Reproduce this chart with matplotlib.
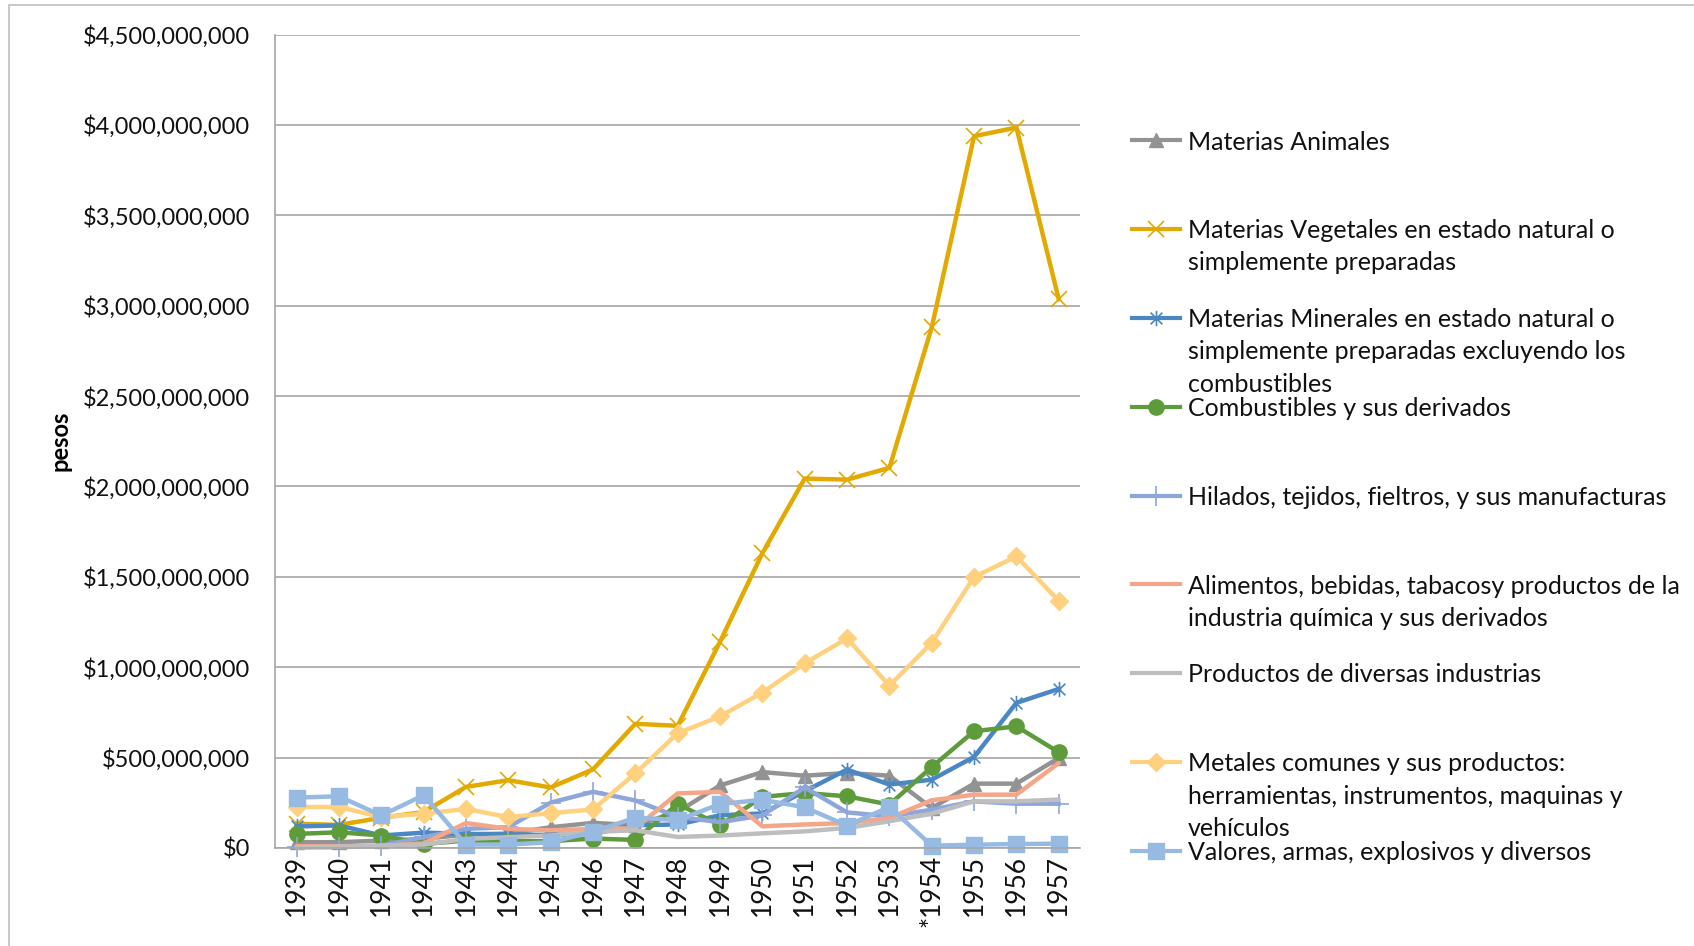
import numpy as np
import matplotlib
matplotlib.use('Agg')
import matplotlib.pyplot as plt
from matplotlib.lines import Line2D
from matplotlib.path import Path
from matplotlib.patches import Rectangle
from matplotlib.ticker import FuncFormatter, MultipleLocator

plt.rcParams['font.family'] = ['Lato', 'DejaVu Sans']

# years shown on the category axis (1954 carries a footnote star)
years = ['1939', '1940', '1941', '1942', '1943', '1944', '1945', '1946', '1947', '1948',
         '1949', '1950', '1951', '1952', '1953', '*1954', '1955', '1956', '1957']

# values in millions of pesos
animales = [32, 32, 41, 50, 75, 80, 115, 139, 126, 200, 346, 420, 400, 415, 400, 221, 356, 356, 498]
vegetales = [134, 128, 167, 199, 338, 375, 335, 435, 687, 676, 1141, 1631, 2044, 2038, 2103, 2880, 3938, 3986, 3036]
minerales = [119, 125, 69, 85, 78, 75, 72, 78, 126, 130, 181, 191, 314, 434, 351, 378, 504, 803, 880]
combustibles = [78, 87, 69, 22, 41, 37, 38, 52, 45, 244, 126, 283, 304, 286, 240, 448, 646, 673, 530]
hilados = [4, 4, 13, 60, 106, 115, 251, 311, 263, 172, 143, 180, 335, 197, 175, 212, 258, 245, 245]
alimentos = [10, 10, 12, 25, 138, 106, 98, 105, 110, 302, 311, 120, 130, 138, 166, 264, 295, 295, 470]
productos = [4, 7, 13, 19, 50, 60, 69, 89, 98, 61, 69, 81, 92, 111, 148, 190, 258, 258, 268]
metales = [227, 227, 171, 190, 216, 171, 193, 213, 413, 635, 728, 860, 1022, 1160, 898, 1135, 1500, 1613, 1368]
valores = [279, 286, 180, 292, 19, 19, 32, 89, 168, 154, 243, 267, 225, 124, 227, 13, 18, 22, 24]

labels = [
    'Materias Animales',
    'Materias Vegetales en estado natural o\nsimplemente preparadas',
    'Materias Minerales en estado natural o\nsimplemente preparadas excluyendo los\ncombustibles',
    'Combustibles y sus derivados',
    'Hilados, tejidos, fieltros, y sus manufacturas',
    'Alimentos, bebidas, tabacosy productos de la\nindustria química y sus derivados',
    'Productos de diversas industrias',
    'Metales comunes y sus productos:\nherramientas, instrumentos, maquinas y\nvehículos',
    'Valores, armas, explosivos y diversos',
]

# asterisk marker like Excel's (x with a vertical bar)
ast = Path([(-1, -1), (1, 1), (-1, 1), (1, -1), (0, -1.3), (0, 1.3)],
           [Path.MOVETO, Path.LINETO, Path.MOVETO, Path.LINETO, Path.MOVETO, Path.LINETO])

styles = [
    dict(color='#939393', marker='^', ms=10, mew=1),
    dict(color='#E2A900', marker='x', ms=12, mew=1.2),
    dict(color='#4A88C4', marker=ast, ms=11, mew=1.2),
    dict(color='#5E9B3A', marker='o', ms=11, mew=1),
    dict(color='#8EA6DA', marker='+', ms=14, mew=1.2),
    dict(color='#F4A689', marker=None, ms=0, mew=0),
    dict(color='#BEBEBE', marker=None, ms=0, mew=0),
    dict(color='#FFD17E', marker='D', ms=9, mew=1),
    dict(color='#96BAE2', marker='s', ms=11, mew=1),
]
series = [animales, vegetales, minerales, combustibles, hilados, alimentos, productos, metales, valores]


def face(st):
    if st['marker'] in ('x', '+') or st['marker'] is ast:
        return 'none'
    return st['color']


fig = plt.figure(figsize=(16.94, 9.46), dpi=100)
fig.add_artist(Rectangle((9 / 1694, -0.1), 1.2, 1.1 - 5 / 946, transform=fig.transFigure,
                         fill=False, edgecolor='#BFBFBF', lw=1.2))
ax = fig.add_axes([0.1626, 0.1036, 0.4749, 0.8598])

x = np.arange(len(years))
for vals, st in zip(series, styles):
    v = np.array(vals) * 1e6
    if st['marker'] is None:
        ax.plot(x, v, color=st['color'], lw=3.2, solid_capstyle='round', solid_joinstyle='round', clip_on=False)
    else:
        ax.plot(x, v, color=st['color'], lw=3.2, marker=st['marker'], ms=st['ms'], mew=st['mew'],
                mfc=face(st), mec=st['color'], solid_joinstyle='round', clip_on=False)

ax.set_xlim(-0.5, len(years) - 0.5)
ax.set_ylim(0, 4.5e9)
ax.yaxis.set_major_locator(MultipleLocator(5e8))
ax.yaxis.set_major_formatter(FuncFormatter(lambda v, p: '${:,.0f}'.format(v)))
ax.set_xticks(x)
ax.set_xticklabels(years, rotation=90, fontsize=19, color='#111111')
ax.tick_params(axis='y', labelsize=17, labelcolor='#111111', length=0, pad=18)
ax.tick_params(axis='x', length=0, pad=5)
ax.grid(axis='y', color='#A6A6A6', lw=1.2)
ax.set_axisbelow(True)
for s in ['top', 'right']:
    ax.spines[s].set_visible(False)
for s in ['left', 'bottom']:
    ax.spines[s].set_color('#A6A6A6')
    ax.spines[s].set_linewidth(1.2)
ax.set_ylabel('pesos', fontsize=17, fontweight='bold')
ax.yaxis.set_label_coords(-0.253, 0.5)

# legend drawn by hand so every entry keeps the same pitch
W, H = 1694.0, 946.0
ys = [140.5, 229, 317.6, 407, 496, 584.5, 673, 762, 851]
for lab, st, yy in zip(labels, styles, ys):
    fy = 1 - yy / H
    kw = {}
    if st['marker'] is not None:
        kw = dict(marker=st['marker'], markevery=[1], ms=st['ms'], mew=st['mew'], mfc=face(st), mec=st['color'])
    fig.add_artist(Line2D([1132 / W, 1156 / W, 1180 / W], [fy, fy, fy], transform=fig.transFigure,
                          color=st['color'], lw=3, **kw))
    fig.text(1188 / W, fy + 10 / H, lab, fontsize=18, va='top', ha='left', color='#111111',
             linespacing=1.5, transform=fig.transFigure)

fig.savefig('out.png', dpi=100)
